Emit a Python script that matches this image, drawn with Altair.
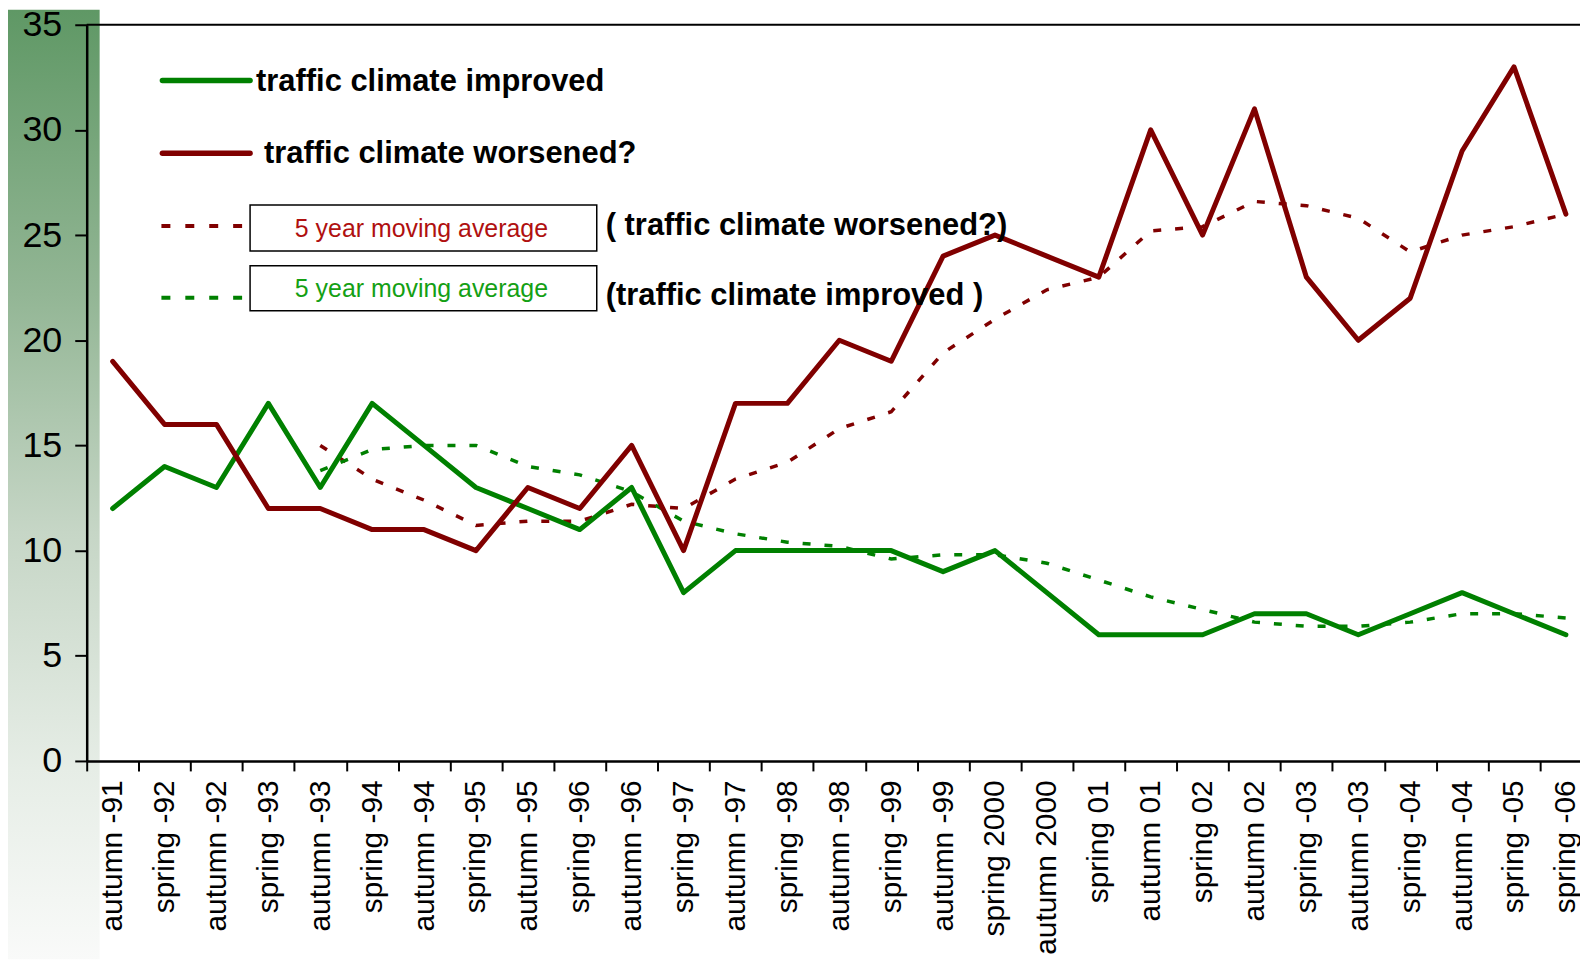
import json
import altair as alt
import pandas as pd

# ---------------- data ----------------
labels = [
    "autumn -91", "spring -92", "autumn -92", "spring -93", "autumn -93",
    "spring -94", "autumn -94", "spring -95", "autumn -95", "spring -96",
    "autumn -96", "spring -97", "autumn -97", "spring -98", "autumn -98",
    "spring -99", "autumn -99", "spring 2000", "autumn 2000", "spring 01",
    "autumn 01", "spring 02", "autumn 02", "spring -03", "autumn -03",
    "spring -04", "autumn -04", "spring -05", "spring -06",
]
improved = [12, 14, 13, 17, 13, 17, 15, 13, 12, 11, 13, 8, 10, 10, 10, 10, 9, 10,
            8, 6, 6, 6, 7, 7, 6, 7, 8, 7, 6]
worsened = [19, 16, 16, 12, 12, 11, 11, 10, 13, 12, 15, 10, 17, 17, 20, 19, 24, 25,
            24, 23, 30, 25, 31, 23, 20, 22, 29, 33, 26]
ma_worsened = [None, None, None, None, 15, 13.4, 12.4, 11.2, 11.4, 11.4, 12.2, 12,
               13.4, 14.2, 15.8, 16.6, 19.4, 21, 22.4, 23, 25.2, 25.4, 26.6, 26.4,
               25.8, 24.2, 25, 25.4, 26]
ma_improved = [None, None, None, None, 13.8, 14.8, 15, 15, 14, 13.6, 12.8, 11.4,
               10.8, 10.4, 10.2, 9.6, 9.8, 9.8, 9.4, 8.6, 7.8, 7.2, 6.6, 6.4, 6.4,
               6.6, 7, 7, 6.8]

series_solid = ["traffic climate improved", "traffic climate worsened?"]
series_ma = ["ma worsened", "ma improved"]
GREEN = "#008000"
RED = "#800000"

rows = []
for name, vals in [(series_solid[0], improved), (series_solid[1], worsened),
                   (series_ma[0], ma_worsened), (series_ma[1], ma_improved)]:
    for i, v in enumerate(vals):
        if v is not None:
            rows.append({"idx": i, "label": labels[i], "value": v, "series": name})
df = pd.DataFrame(rows)
solid_df = df[df.series.isin(series_solid)]
ma_df = df[df.series.isin(series_ma)]

# ---------------- layout ----------------
W, H = 1499, 739
PAD = {"left": 79, "top": 15, "right": 0, "bottom": 199}
FONT = "Liberation Sans"
STEP = 52.1
x_max = -0.5 + W / STEP

half_vals = []
for i in range(len(labels)):
    half_vals += [i - 0.5, i]

label_expr = "datum.value % 1 != 0 ? '' : " + json.dumps(labels) + "[datum.value]"

x_axis = alt.Axis(
    values=half_vals, labelExpr=label_expr, title=None, grid=False,
    labelAngle=270, labelFontSize=30, labelFont=FONT, labelColor="black",
    labelPadding=9, labelOverlap=False, labelFlush=False, labelBound=False,
    labelLimit=0,
    tickSize=10, tickWidth=2, tickColor="black",
    tickOpacity={"condition": {"test": "datum.value % 1 == 0", "value": 0}, "value": 1},
    domainColor="black", domainWidth=2.5, zindex=1,
)
y_axis = alt.Axis(
    values=[0, 5, 10, 15, 20, 25, 30, 35], title=None, grid=False,
    labelFontSize=36, labelFont=FONT, labelColor="black", labelPadding=13,
    tickSize=12, tickWidth=2, tickColor="black",
    domainColor="black", domainWidth=2.5, zindex=1,
)
x_enc = alt.X("idx:Q", scale=alt.Scale(domain=[-0.5, x_max], nice=False, zero=False), axis=x_axis)
y_enc = alt.Y("value:Q", scale=alt.Scale(domain=[0, 35], nice=False), axis=y_axis)

one = pd.DataFrame({"k": [0]})

# gradient panel at the left
bg = alt.Chart(one).mark_rect(
    color=alt.Gradient(
        gradient="linear", x1=0, x2=0, y1=0, y2=1,
        stops=[alt.GradientStop(color="#5f9865", offset=0),
               alt.GradientStop(color="#93b695", offset=0.3),
               alt.GradientStop(color="#c6d6c6", offset=0.55),
               alt.GradientStop(color="#e6ede6", offset=0.8),
               alt.GradientStop(color="#f9faf9", offset=1)]),
).encode(x=alt.value(-79), x2=alt.value(13), y=alt.value(-15), y2=alt.value(H + 199))

top_rule = alt.Chart(one).mark_rule(color="black", strokeWidth=2).encode(
    x=alt.value(0), x2=alt.value(W), y=alt.value(0))

ma_lines = alt.Chart(ma_df).mark_line(strokeWidth=3.5, strokeDash=[8, 14]).encode(
    x=x_enc, y=y_enc,
    color=alt.Color("series:N", scale=alt.Scale(domain=series_ma, range=[RED, GREEN]), legend=None),
    detail="series:N",
)
solid_lines = alt.Chart(solid_df).mark_line(strokeWidth=5, strokeCap="round", strokeJoin="round").encode(
    x=x_enc, y=y_enc,
    stroke=alt.Stroke("series:N", scale=alt.Scale(domain=series_solid, range=[GREEN, RED]), legend=None),
    detail="series:N",
)

# ---------------- manual legend ----------------
legend_layers = []


def leg_line(x1, x2, y, color, dash=None, width=5.5):
    kw = dict(color=color, strokeWidth=width, strokeCap="round" if dash is None else "butt")
    if dash is not None:
        kw["strokeDash"] = dash
    return alt.Chart(one).mark_rule(**kw).encode(x=alt.value(x1), x2=alt.value(x2), y=alt.value(y))


def leg_text(x, y, txt, color="black", size=31, weight="bold", align="left"):
    return alt.Chart(one).mark_text(
        text=txt, font=FONT, fontSize=size, fontWeight=weight, color=color,
        align=align, baseline="middle").encode(x=alt.value(x), y=alt.value(y))


def leg_box(x1, x2, y1, y2):
    return alt.Chart(one).mark_rect(fill="white", stroke="black", strokeWidth=1.5).encode(
        x=alt.value(x1), x2=alt.value(x2), y=alt.value(y1), y2=alt.value(y2))


legend_layers += [
    leg_line(76, 164, 56, GREEN),
    leg_text(170, 57, "traffic climate improved"),
    leg_line(76, 164, 129, RED),
    leg_text(178, 130, "traffic climate worsened?"),
    leg_line(75, 161, 202, RED, dash=[9, 15], width=4),
    leg_box(164, 512, 181, 227),
    leg_text(336, 205, "5 year moving average", color="#b01010", size=25, weight="normal", align="center"),
    leg_text(521, 202, "( traffic climate worsened?)"),
    leg_line(75, 161, 274, GREEN, dash=[9, 15], width=4),
    leg_box(164, 512, 242, 287),
    leg_text(336, 265, "5 year moving average", color="#14a014", size=25, weight="normal", align="center"),
    leg_text(521, 272, "(traffic climate improved )"),
]

chart = alt.layer(bg, top_rule, ma_lines, solid_lines, *legend_layers).resolve_scale(
    color="independent"
).properties(
    width=W, height=H, padding=PAD, autosize=alt.AutoSizeParams(type="none"),
    background="white",
).configure_view(stroke=None)

chart.save("out.html", embed_options={"renderer": "svg", "actions": False})
